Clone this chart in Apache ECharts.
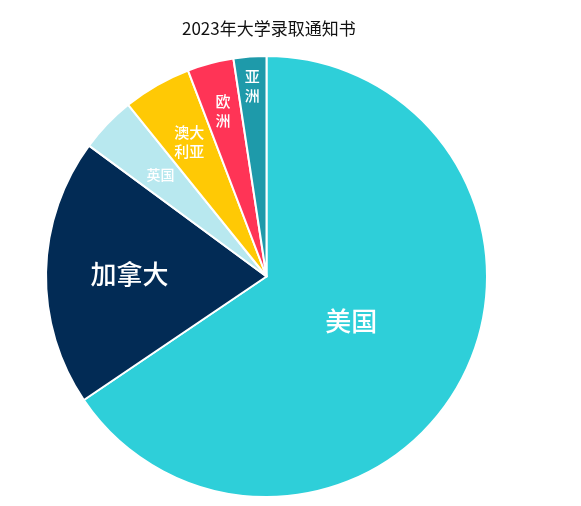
<!DOCTYPE html>
<html>
<head>
<meta charset="utf-8">
<script src="https://cdn.jsdelivr.net/npm/echarts@6/dist/echarts.min.js"></script>
<style>
html,body{margin:0;padding:0;background:#fff;}
#chart{width:581px;height:506px;}
</style>
</head>
<body>
<div id="chart"></div>
<script>
var titleText = '2023年大学录取通知书';
var categories = ['美国', '加拿大', '英国', '澳大利亚', '欧洲', '亚洲'];
var values = [65.6, 19.6, 4.1, 5.0, 3.4, 2.4];
var labelTexts = ['美国', '加拿大', '英国', '澳大\n利亚', '欧\n洲', '亚\n洲'];

var colors = ['#2ECFD9', '#022B55', '#B8E8EF', '#FFC905', '#FF3456', '#1E9AAA'];
var labelSizes = [26, 26, 14, 15, 15, 15];
var labelLineHeights = [30, 30, 18, 19, 19, 19];
var labelDist = [93, 134, 144, 152, 168, 188];

var cx = 266.5, cy = 276.5, R = 220.5;
var FONT = '"Noto Sans CJK SC", "Noto Sans", sans-serif';

var chart = echarts.init(document.getElementById('chart'), null, {renderer: 'canvas'});

var series = [{
  type: 'pie',
  center: [cx, cy],
  radius: [0, R],
  startAngle: 90,
  clockwise: true,
  silent: true,
  label: {show: false},
  labelLine: {show: false},
  itemStyle: {borderColor: '#ffffff', borderWidth: 2},
  data: categories.map(function (c, i) {
    return {name: c, value: values[i], itemStyle: {color: colors[i]}};
  })
}];

categories.forEach(function (c, k) {
  series.push({
    type: 'pie',
    center: [cx, cy],
    radius: [labelDist[k] - 2, labelDist[k] + 2],
    startAngle: 90,
    clockwise: true,
    silent: true,
    z: 5,
    itemStyle: {color: 'rgba(0,0,0,0)', borderWidth: 0},
    labelLine: {show: false},
    emphasis: {disabled: true},
    data: categories.map(function (cc, i) {
      return {
        name: cc,
        value: values[i],
        label: {
          show: i === k,
          position: 'inside',
          formatter: labelTexts[i],
          color: '#ffffff',
          fontSize: labelSizes[i],
          lineHeight: labelLineHeights[i],
          fontFamily: FONT,
          fontWeight: 500,
          align: 'center'
        }
      };
    })
  });
});

chart.setOption({
  animation: false,
  backgroundColor: '#ffffff',
  title: {
    text: titleText,
    left: 177,
    top: 15,
    textStyle: {fontSize: 17, fontWeight: 'normal', color: '#111111', fontFamily: FONT}
  },
  series: series
});
</script>
</body>
</html>
